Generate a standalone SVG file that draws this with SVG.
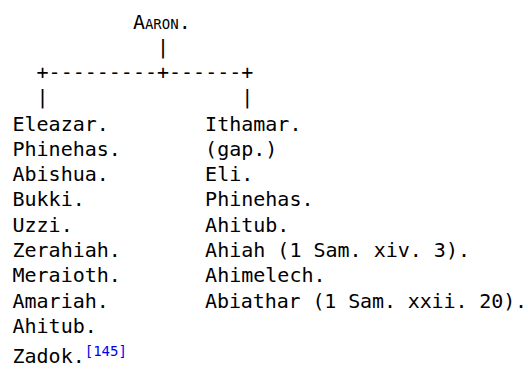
<svg xmlns="http://www.w3.org/2000/svg" width="528" height="370" viewBox="0 0 528 370">
<style>
text{font-family:"DejaVu Sans Mono","Liberation Mono",monospace;font-size:20px;fill:#000;white-space:pre}
.sc{font-variant:small-caps}
.sup{font-size:14px;fill:#0000ee}
</style>
<rect width="528" height="370" fill="#fff"/>
<g id="aaron"><text x="132.9" y="28.5" class="sc">Aaron.</text></g>
<g id="connectors">
<text x="12.5" y="53.8" xml:space="preserve">            |</text>
<text x="12.5" y="78.6" xml:space="preserve">  +---------+------+</text>
<text x="12.5" y="103.8" xml:space="preserve">  |                |</text>
</g>
<g id="eleazar-line">
<text x="12.5" y="130.5">Eleazar.</text>
<text x="12.5" y="155.8">Phinehas.</text>
<text x="12.5" y="181.1">Abishua.</text>
<text x="12.5" y="206.4">Bukki.</text>
<text x="12.5" y="231.7">Uzzi.</text>
<text x="12.5" y="257">Zerahiah.</text>
<text x="12.5" y="282.3">Meraioth.</text>
<text x="12.5" y="307.6">Amariah.</text>
<text x="12.5" y="332.9">Ahitub.</text>
<text x="12.5" y="362.5">Zadok.<tspan class="sup" dy="-7">[145]</tspan></text>
</g>
<g id="ithamar-line">
<text x="205.1" y="130.5">Ithamar.</text>
<text x="205.1" y="155.8">(gap.)</text>
<text x="205.1" y="181.1">Eli.</text>
<text x="205.1" y="206.4">Phinehas.</text>
<text x="205.1" y="231.7">Ahitub.</text>
<text x="205.1" y="257">Ahiah (1 Sam. xiv. 3).</text>
<text x="205.1" y="282.3">Ahimelech.</text>
<text x="205.1" y="307.6" textLength="322" lengthAdjust="spacing">Abiathar (1 Sam. xxii. 20).</text>
</g>
</svg>
